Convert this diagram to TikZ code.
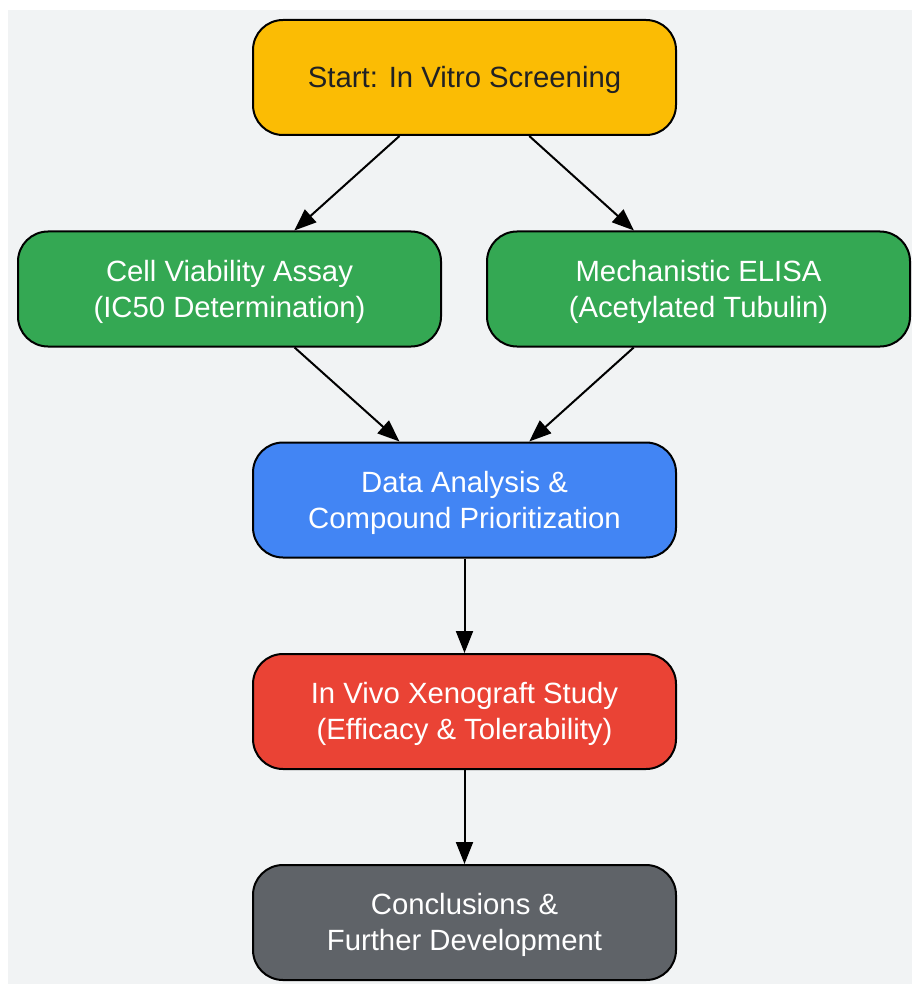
\documentclass[tikz,border=0pt]{standalone}
\usepackage{fontspec}
\setmainfont{Liberation Sans}
\usetikzlibrary{arrows.meta}
\definecolor{bggray}{HTML}{F1F3F4}
\definecolor{gyellow}{HTML}{FBBC04}
\definecolor{ggreen}{HTML}{34A853}
\definecolor{gblue}{HTML}{4285F4}
\definecolor{gred}{HTML}{EA4335}
\definecolor{ggray}{HTML}{5F6368}
\definecolor{gtext}{HTML}{202124}
\newcommand{\boxstrut}{\rule{0pt}{27pt}}
\begin{document}
\begin{tikzpicture}[x=1pt,y=-1pt,
    stagebox/.style={draw=black, line width=2pt, rounded corners=30pt,
        minimum width=423pt, minimum height=115pt, align=center, text=white,
        font=\fontsize{29.3}{36}\selectfont},
    flow/.style={line width=2pt, -{Triangle[length=22pt,width=17pt]}}]
        \useasboundingbox (0,0) rectangle (912,984);
        \fill[bggray] (8,10) rectangle (912,984);

        \node[stagebox, fill=gyellow, text=gtext] (start) at (464.5, 77.5) {\boxstrut Start: In Vitro Screening};
        \node[stagebox, fill=ggreen] (viab) at (229.5, 289) {\boxstrut Cell Viability Assay\\(IC50 Determination)};
        \node[stagebox, fill=ggreen] (elisa) at (698.5, 289) {\boxstrut Mechanistic ELISA\\(Acetylated Tubulin)};
        \node[stagebox, fill=gblue] (analysis) at (464.5, 500) {\boxstrut Data Analysis \&\\Compound Prioritization};
        \node[stagebox, fill=gred] (xeno) at (464.5, 711.5) {\boxstrut In Vivo Xenograft Study\\(Efficacy \& Tolerability)};
        \node[stagebox, fill=ggray] (concl) at (464.5, 922.5) {\boxstrut Conclusions \&\\Further Development};

        \draw[flow] (start) -- (viab);
        \draw[flow] (start) -- (elisa);
        \draw[flow] (viab) -- (analysis);
        \draw[flow] (elisa) -- (analysis);
        \draw[flow] (analysis) -- (xeno);
        \draw[flow] (xeno) -- (concl);
\end{tikzpicture}
\end{document}
